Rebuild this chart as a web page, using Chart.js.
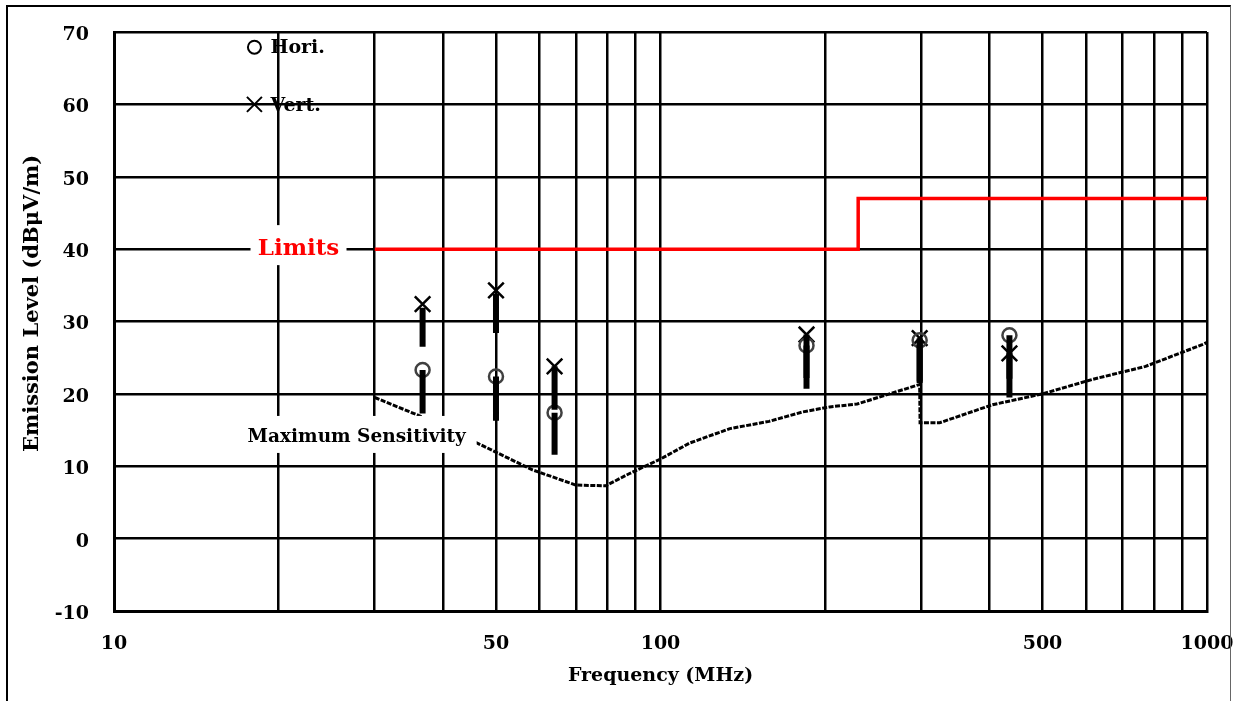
<!DOCTYPE html>
<html>
<head>
<meta charset="utf-8">
<title>Radiated Emission</title>
<script src="https://cdn.jsdelivr.net/npm/chart.js@4.4.1/dist/chart.umd.min.js"></script>
<style>
  html, body { margin: 0; padding: 0; background: #fff; overflow: hidden; }
  #wrap { position: relative; width: 1233px; height: 701px; }
  #frame {
    position: absolute; left: 6px; top: 5px; width: 1225px; height: 720px;
    border-left: 2px solid #000; border-top: 2px solid #000; border-right: 1px solid #666;
    box-sizing: border-box; pointer-events: none;
  }
  canvas { position: absolute; left: 0; top: 0; }
</style>
</head>
<body>
<div id="wrap">
  <canvas id="c" width="1233" height="701"></canvas>
  <div id="frame"></div>
</div>
<script>
// Frequency grid (MHz) and labelled ticks
const xGrid = [10, 20, 30, 40, 50, 60, 70, 80, 90, 100, 200, 300, 400, 500, 600, 700, 800, 900, 1000];
const xTickLabels = [10, 50, 100, 500, 1000];
const yTicks = [-10, 0, 10, 20, 30, 40, 50, 60, 70];

// Limit line (dBµV/m)
const limitFreq = [30, 230, 230, 1000];
const limitLevel = [40, 40, 47, 47];

// Receiver maximum sensitivity
const sensFreq = [30, 36.4, 46.2, 58.3, 70, 79.4, 87.8, 100, 113, 134, 158, 182, 204, 229, 298, 298.5, 324, 405, 500, 617, 772, 980, 1000];
const sensLevel = [19.5, 16.9, 13.2, 9.5, 7.4, 7.3, 9.0, 11.0, 13.2, 15.2, 16.2, 17.5, 18.2, 18.6, 21.3, 16.0, 16.0, 18.5, 20.0, 22.0, 23.8, 26.8, 27.1];

// Measured emissions
const measFreq = [36.7, 50, 64, 185, 298, 435];
const horiLevel = [23.3, 22.4, 17.4, 26.7, 27.4, 28.1];
const vertLevel = [32.4, 34.3, 23.8, 28.2, 27.7, 25.6];

// Measurement range bars (top / bottom)
const horiBarTop = [23.3, 22.4, 17.4, 26.7, 27.4, 28.1];
const horiBarBottom = [17.3, 16.3, 11.6, 20.7, 21.5, 22.1];
const vertBarTop = [31.9, 33.8, 23.8, 28.2, 27.7, 25.6];
const vertBarBottom = [26.5, 28.4, 17.8, 22.2, 21.7, 19.5];

const FONT = "'DejaVu Serif', serif";

function pts(xs, ys) { return xs.map((x, i) => ({ x: x, y: ys[i] })); }
function segs(xs, tops, bottoms) {
  const out = [];
  xs.forEach((x, i) => { out.push({ x: x, y: tops[i] }, { x: x, y: bottoms[i] }, { x: x, y: null }); });
  return out;
}

// Text annotations, legend, y-axis title and white label boxes
const annotations = {
  id: 'annotations',
  afterDatasetsDraw(chart) {
    const ctx = chart.ctx;
    const xs = chart.scales.x, ys = chart.scales.y;
    ctx.save();

    // "Limits" label with white box
    const lx = xs.getPixelForValue(20) + 20, ly = ys.getPixelForValue(40);
    ctx.fillStyle = '#fff';
    ctx.fillRect(lx - 48, ly - 24, 96, 40);
    ctx.font = "bold 23px " + FONT;
    ctx.fillStyle = '#ff0000';
    ctx.textAlign = 'center';
    ctx.textBaseline = 'middle';
    ctx.fillText('Limits', lx, ly);

    // "Maximum Sensitivity" label with white box
    const mx = xs.getPixelForValue(27.8), my = ys.getPixelForValue(14.05);
    ctx.fillStyle = '#fff';
    ctx.fillRect(mx - 120, my - 21, 240, 37);
    ctx.font = "bold 18.5px " + FONT;
    ctx.fillStyle = '#000';
    ctx.fillText('Maximum Sensitivity', mx, my);

    // Legend
    const gx = xs.getPixelForValue(18.07);
    const gy1 = ys.getPixelForValue(67.9), gy2 = ys.getPixelForValue(60);
    ctx.strokeStyle = '#000';
    ctx.lineWidth = 2;
    ctx.beginPath();
    ctx.arc(gx, gy1, 6.5, 0, Math.PI * 2);
    ctx.stroke();
    ctx.beginPath();
    ctx.moveTo(gx - 7.5, gy2 - 7.5); ctx.lineTo(gx + 7.5, gy2 + 7.5);
    ctx.moveTo(gx - 7.5, gy2 + 7.5); ctx.lineTo(gx + 7.5, gy2 - 7.5);
    ctx.stroke();
    ctx.font = "bold 19px " + FONT;
    ctx.textAlign = 'left';
    ctx.fillStyle = '#000';
    ctx.fillText('Hori.', gx + 16, gy1 + 1);
    ctx.fillText('Vert.', gx + 16, gy2 + 2);

    // Y-axis title
    ctx.translate(33, ys.getPixelForValue(32.5));
    ctx.rotate(-Math.PI / 2);
    ctx.textAlign = 'center';
    ctx.font = "bold 21px " + FONT;
    ctx.fillText('Emission Level (dBμV/m)', 0, 0);
    ctx.restore();
  }
};

new Chart(document.getElementById('c'), {
  type: 'line',
  data: {
    datasets: [
      {
        label: 'Limits', data: pts(limitFreq, limitLevel),
        borderColor: '#ff0000', borderWidth: 3.5, pointRadius: 0, tension: 0
      },
      {
        label: 'Maximum Sensitivity', data: pts(sensFreq, sensLevel),
        borderColor: '#000', borderWidth: 3, borderDash: [5, 1.5], pointRadius: 0, tension: 0
      },
      {
        label: 'Vert. range', data: segs(measFreq, vertBarTop, vertBarBottom),
        borderColor: '#000', borderWidth: 6, borderCapStyle: 'butt', pointRadius: 0, spanGaps: false
      },
      {
        label: 'Hori. range', data: segs(measFreq, horiBarTop, horiBarBottom),
        borderColor: '#000', borderWidth: 6, borderCapStyle: 'butt', pointRadius: 0, spanGaps: false
      },
      {
        label: 'Hori.', data: pts(measFreq, horiLevel), showLine: false,
        pointStyle: 'circle', pointRadius: 7, pointBorderWidth: 2.5,
        pointBorderColor: '#404040', pointBackgroundColor: 'rgba(0,0,0,0)'
      },
      {
        label: 'Vert.', data: pts(measFreq, vertLevel), showLine: false,
        pointStyle: 'crossRot', pointRadius: 11, pointBorderWidth: 2.5,
        pointBorderColor: '#000', pointBackgroundColor: '#000'
      }
    ]
  },
  options: {
    responsive: false,
    animation: false,
    events: [],
    layout: { padding: { top: 32, right: 26, left: 0, bottom: 0 } },
    plugins: { legend: { display: false }, tooltip: { enabled: false } },
    scales: {
      x: {
        type: 'logarithmic', min: 10, max: 1000,
        afterBuildTicks(scale) { scale.ticks = xGrid.map(v => ({ value: v })); },
        afterFit(scale) { scale.height = 90; scale.paddingLeft = 0; scale.paddingRight = 0; },
        grid: { color: '#000', lineWidth: 2.5, drawTicks: false },
        border: { display: true, color: '#000', width: 3 },
        ticks: {
          autoSkip: false, maxRotation: 0, padding: 22, color: '#000',
          font: { family: FONT, size: 19, weight: 'bold' },
          callback: v => (xTickLabels.includes(v) ? String(v) : '')
        },
        title: {
          display: true, text: 'Frequency (MHz)', color: '#000',
          font: { family: FONT, size: 19, weight: 'bold' }, padding: { top: 0, bottom: 14 }
        }
      },
      y: {
        min: -10, max: 70,
        afterBuildTicks(scale) { scale.ticks = yTicks.map(v => ({ value: v })); },
        afterFit(scale) { scale.width = 114; scale.paddingTop = 0; scale.paddingBottom = 0; },
        grid: { color: '#000', lineWidth: 2.5, drawTicks: false },
        border: { display: true, color: '#000', width: 3 },
        ticks: {
          padding: 25, color: '#000', labelOffset: 3,
          font: { family: FONT, size: 19, weight: 'bold' }
        },
        title: { display: false }
      }
    }
  },
  plugins: [annotations]
});
</script>
</body>
</html>
